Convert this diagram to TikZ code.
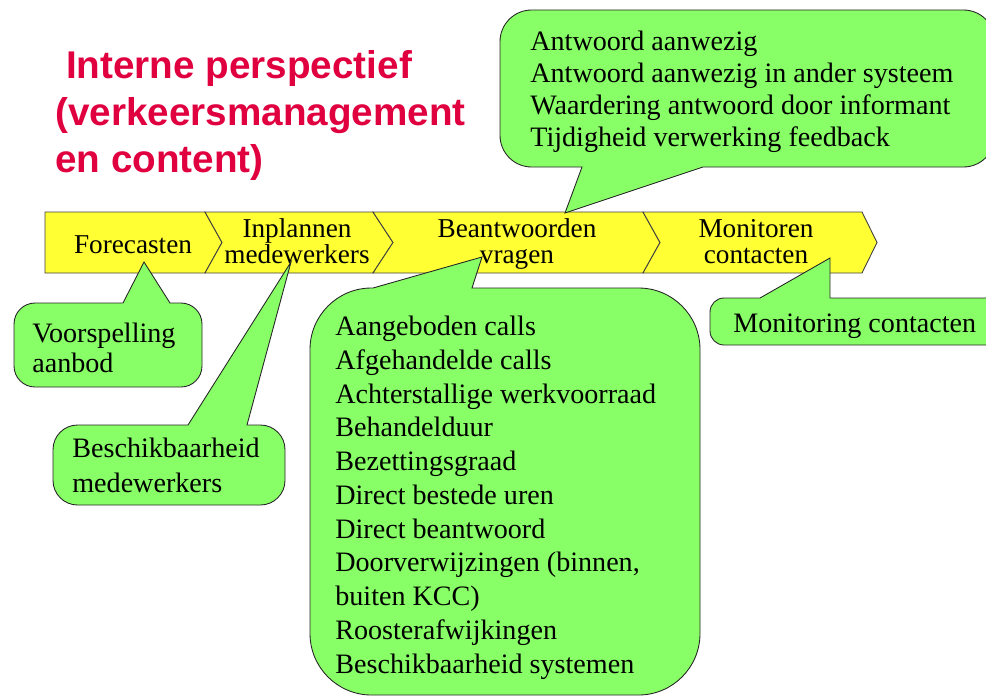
\documentclass[tikz,border=0pt]{standalone}
\usepackage{fontspec}
\setmainfont{Liberation Serif}
\newfontfamily\titlefont{Liberation Sans}
\usetikzlibrary{positioning}

\definecolor{stageyellow}{RGB}{255,255,51}
\definecolor{balloongreen}{RGB}{136,255,102}
\definecolor{titlered}{RGB}{224,0,64}

\tikzset{
  stage/.style={draw=black!75, fill=stageyellow, line width=0.5pt},
  balloon/.style={draw=black!85, fill=balloongreen, line width=0.5pt},
  stagetext/.style={font=\fontsize{15.5}{14.7}\selectfont, align=center, inner sep=0pt, anchor=base},
  balloontext/.style={align=left, inner sep=0pt, anchor=base west},
}

\begin{document}
\begin{tikzpicture}[x=0.02cm,y=-0.02cm]
\useasboundingbox (0,0) rectangle (986,696);
\clip (0,0) rectangle (986,696);

% title (base = last line)
\node[anchor=base west, align=left, inner sep=0pt, text=titlered,
      font=\titlefont\bfseries\fontsize{22}{26.6}\selectfont] (title) at (55,172)
  {\ Interne perspectief\\(verkeersmanagement\\en content)};

% process chevrons
\draw[stage] (45,212) -- (205,212) -- (222,242.5) -- (205,273) -- (45,273) -- cycle;
\draw[stage] (205,212) -- (373,212) -- (393,242.5) -- (373,273) -- (205,273) -- (222,242.5) -- cycle;
\draw[stage] (373,212) -- (643,212) -- (660,242.5) -- (643,273) -- (373,273) -- (393,242.5) -- cycle;
\draw[stage] (643,212) -- (862,212) -- (877,242.5) -- (862,273) -- (643,273) -- (660,242.5) -- cycle;

\node[stagetext] (fc) at (133,253) {Forecasten};
\node[stagetext] (plan) at (297,263) {Inplannen\\medewerkers};
\node[stagetext] (answ) at (517,263) {Beantwoorden\\vragen};
\node[stagetext] (mon) at (756,263) {Monitoren\\contacten};

% pointer tips
\coordinate (fc tip) at (144,262);
\coordinate (plan tip) at (291,262);
\coordinate (answ tip) at (482,257);
\coordinate (answ top tip) at (565,213);
\coordinate (mon tip) at (830,258);

% balloons
\draw[balloon] (fc tip) -- (170,303) [rounded corners=12pt] -- (202,303) -- (202,387) -- (14,387) -- (14,303) [sharp corners] -- (123,303) -- cycle;
\draw[balloon] (plan tip) -- (247,425) [rounded corners=14pt] -- (285,425) -- (285,505) -- (53,505) -- (53,425) [sharp corners] -- (188,425) -- cycle;
\draw[balloon] (answ tip) -- (472,288) [rounded corners=35pt] -- (700,288) -- (700,695) -- (310,695) -- (310,288) [sharp corners] -- (373,288) -- cycle;
\draw[balloon] (answ top tip) -- (582,167) [rounded corners=18pt] -- (500,167) -- (500,10) -- (995,10) -- (995,167) [sharp corners] -- (703,167) -- cycle;
\draw[balloon] (mon tip) -- (830,298) [rounded corners=8pt] -- (1000,298) -- (1000,345) -- (710,345) -- (710,298) [sharp corners] -- (760,298) -- cycle;

% balloon texts (base = last line)
\node[balloontext, font=\fontsize{16}{17}\selectfont] (vsp) at (32,372) {Voorspelling\\aanbod};
\node[balloontext, font=\fontsize{16}{19.5}\selectfont] (besch) at (72,492) {Beschikbaarheid\\medewerkers};
\node[balloontext, font=\fontsize{16}{19.2}\selectfont] (kpi) at (335,673)
  {Aangeboden calls\\Afgehandelde calls\\Achterstallige werkvoorraad\\Behandelduur\\Bezettingsgraad\\Direct bestede uren\\Direct beantwoord\\Doorverwijzingen (binnen,\\buiten KCC)\\Roosterafwijkingen\\Beschikbaarheid systemen};
\node[balloontext, font=\fontsize{16}{18.1}\selectfont] (fb) at (530,146)
  {Antwoord aanwezig\\Antwoord aanwezig in ander systeem\\Waardering antwoord door informant\\Tijdigheid verwerking feedback};
\node[balloontext, font=\fontsize{16}{18}\selectfont] (moni) at (733,332) {Monitoring contacten};
\end{tikzpicture}
\end{document}
